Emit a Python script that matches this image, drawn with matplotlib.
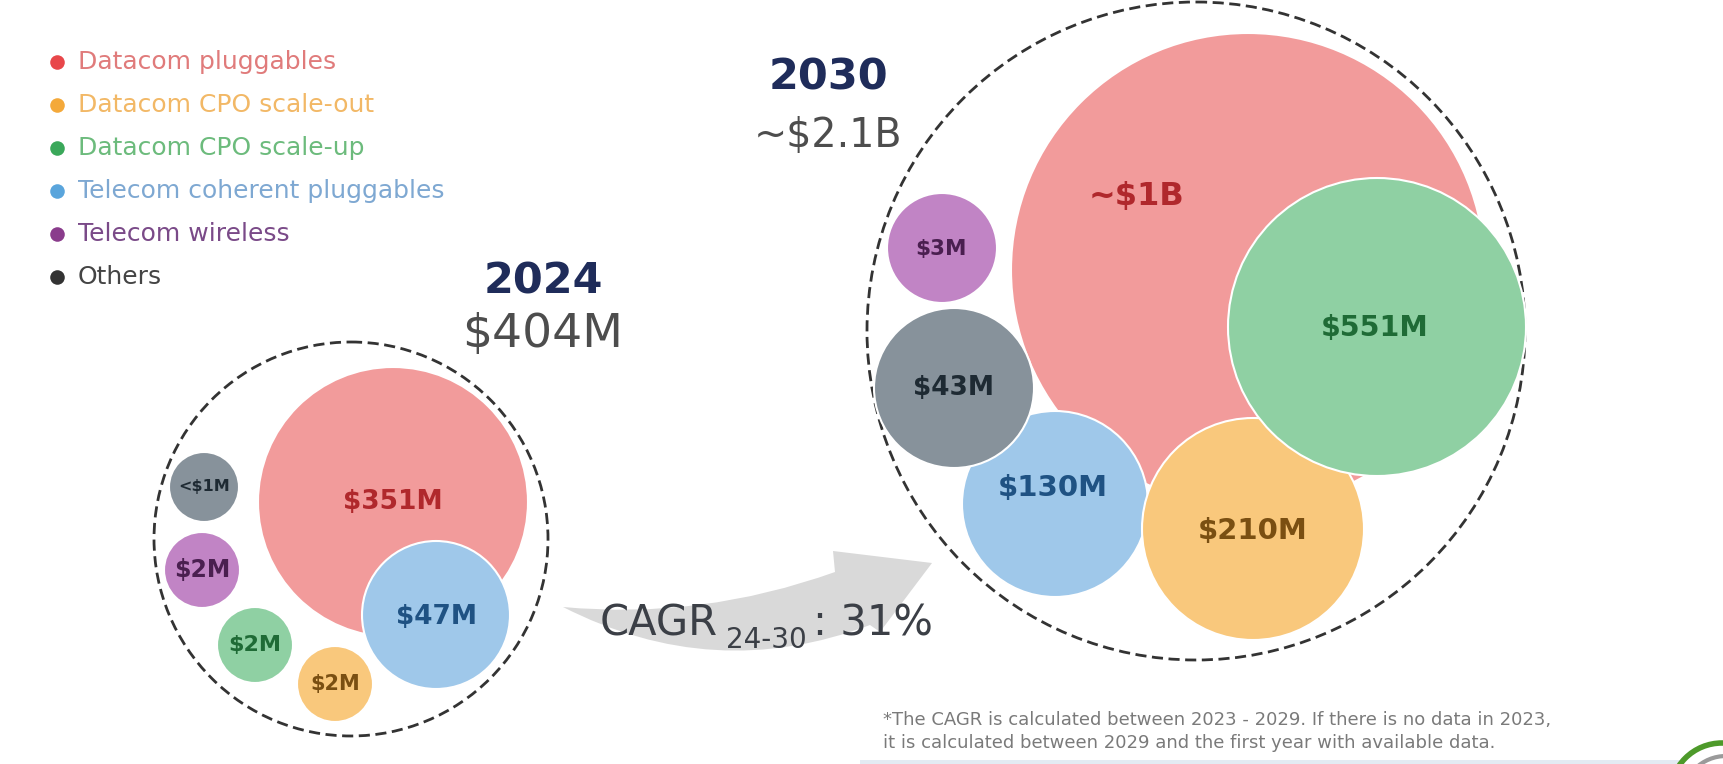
import matplotlib
matplotlib.use("Agg")
import matplotlib.pyplot as plt
from matplotlib.patches import Circle, PathPatch
from matplotlib.path import Path

plt.rcParams['text.parse_math'] = False
plt.rcParams['font.family'] = ['DejaVu Sans']

# data
categories = ["Datacom pluggables", "Datacom CPO scale-out", "Datacom CPO scale-up",
              "Telecom coherent pluggables", "Telecom wireless", "Others"]
labels_2024 = ["$351M", "$2M", "$2M", "$47M", "$2M", "<$1M"]
labels_2030 = ["~$1B", "$210M", "$551M", "$130M", "$3M", "$43M"]
years = ["2024", "2030"]
totals = ["$404M", "~$2.1B"]
cagr_period = "24-30"
cagr_value = "31%"
footnote = ["*The CAGR is calculated between 2023 - 2029. If there is no data in 2023,",
            "it is calculated between 2029 and the first year with available data."]

# styles per category
dot_colors = ["#e8474a", "#f4a93a", "#3aa85a", "#5aa5dc", "#8a3c8c", "#333333"]
legend_text_colors = ["#e07b7b", "#f2b866", "#6cbb7c", "#7ea8d2", "#7a4a88", "#444444"]
fill_colors = ["#f29b9b", "#f9c87c", "#8fd0a3", "#9fc8ea", "#c184c5", "#87929b"]
label_colors = ["#b0282c", "#7a4f12", "#1f6b36", "#1f5283", "#4a1f50", "#1e2a33"]

# layout (pixels, y down): centre x, centre y, radius, label x, label y, font size
layout_2024 = [(393, 502, 135, 393, 502, 19),
               (335, 684, 38, 335, 684, 15),
               (255, 645, 38, 255, 645, 16),
               (436, 615, 74, 437, 617, 19),
               (202, 570, 38, 202, 570, 17),
               (204, 487, 35, 204, 487, 11.5)]
layout_2030 = [(1248, 270, 237, 1137, 197, 23),
               (1253, 529, 111, 1253, 531, 21),
               (1377, 327, 149, 1375, 328, 20.5),
               (1055, 504, 93, 1053, 488, 21),
               (942, 248, 55, 941, 249, 15.5),
               (954, 388, 80, 954, 388, 19)]
draw_order_2024 = [0, 1, 2, 4, 5, 3]
draw_order_2030 = [0, 3, 5, 4, 1, 2]
outer = [(351, 539, 197), (1196, 331, 329)]
header_pos = [(543, 281, 335, 34), (828, 78, 136, 28.5)]

fig = plt.figure(figsize=(17.24, 7.64), dpi=100)
ax = fig.add_axes([0, 0, 1, 1])
ax.set_xlim(0, 1724)
ax.set_ylim(764, 0)
ax.set_aspect('equal')
ax.axis('off')

# legend
for i, (name, dc, tc) in enumerate(zip(categories, dot_colors, legend_text_colors)):
    y = 62 + i * 43
    ax.scatter([57], [y], s=110, color=dc, zorder=5, linewidths=0)
    ax.text(78, y, name, fontsize=18, color=tc, va='center', ha='left')

# bubble clusters
for labels, lay, order, (ox, oy, orad) in [(labels_2024, layout_2024, draw_order_2024, outer[0]),
                                           (labels_2030, layout_2030, draw_order_2030, outer[1])]:
    ax.add_patch(Circle((ox, oy), orad, fill=False, edgecolor="#333333",
                        linestyle=(0, (4, 2)), linewidth=2, zorder=1))
    for z, k in enumerate(order):
        cx, cy, r, lx, ly, fs = lay[k]
        ax.add_patch(Circle((cx, cy), r, facecolor=fill_colors[k], edgecolor="white",
                            linewidth=1.5, zorder=2 + z))
    for k in range(len(labels)):
        cx, cy, r, lx, ly, fs = lay[k]
        ax.text(lx, ly, labels[k], fontsize=fs, fontweight='bold', color=label_colors[k],
                ha='center', va='center', zorder=20)

# year headers
for yr, tot, (hx, hy1, hy2, tfs) in zip(years, totals, header_pos):
    ax.text(hx, hy1, yr, fontsize=31, fontweight='bold', color="#1f2c5a", ha='center', va='center')
    ax.text(hx, hy2, tot, fontsize=tfs, color="#4d4d4d", ha='center', va='center')

# swoosh arrow
verts = [(563, 607), (701, 620), (835, 572), (833, 551), (932, 563), (880, 632),
         (870, 625), (714, 684), (563, 607), (563, 607)]
codes = [Path.MOVETO, Path.CURVE3, Path.CURVE3, Path.LINETO, Path.LINETO, Path.LINETO,
         Path.LINETO, Path.CURVE3, Path.CURVE3, Path.CLOSEPOLY]
ax.add_patch(PathPatch(Path(verts, codes), facecolor="#d9d9d9", edgecolor="none", zorder=1))

t1 = ax.text(600, 623, "CAGR", fontsize=30, color="#3b3f46", ha='left', va='center', zorder=25)
t2 = ax.annotate(cagr_period, xy=(1, 0.5), xycoords=t1, xytext=(6, -12), textcoords='offset points',
                 fontsize=20, color="#3b3f46", ha='left', va='center', zorder=25)
ax.annotate(": " + cagr_value, xy=(1, 0.5), xycoords=(t2, t1), xytext=(4, 0), textcoords='offset points',
            fontsize=30, color="#3b3f46", ha='left', va='center', zorder=25)

# footnote
for i, line in enumerate(footnote):
    ax.text(883, 720 + i * 23, line, fontsize=13, color="#7a7a7a", ha='left', va='center')

# corner strip and logo
ax.add_patch(plt.Rectangle((860, 760), 864, 4, facecolor="#e3ebf3", edgecolor="none", zorder=1))
ax.add_patch(Circle((1722, 795), 52, facecolor="white", edgecolor="#4d9a2a", linewidth=4, zorder=3))
ax.add_patch(Circle((1726, 800), 44, facecolor="none", edgecolor="#9a9a9a", linewidth=3, zorder=3))

fig.savefig("out.png", dpi=100, facecolor="white")
